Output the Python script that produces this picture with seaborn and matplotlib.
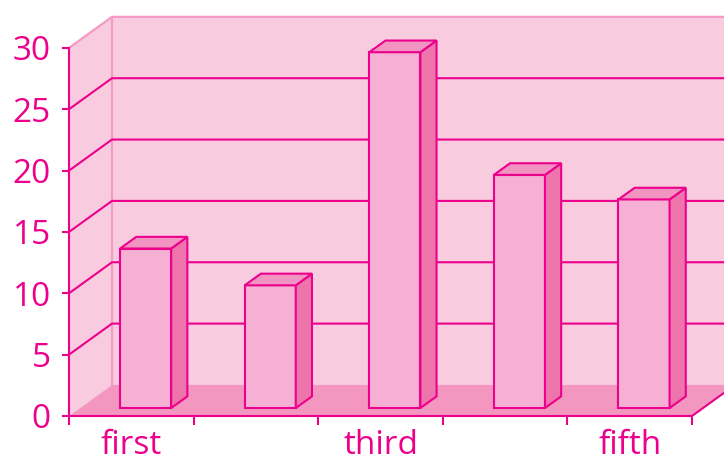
import matplotlib
matplotlib.use('Agg')
import matplotlib.pyplot as plt
import seaborn as sns
from matplotlib.patches import Polygon, Rectangle

# data
categories = ['first', 'second', 'third', 'fourth', 'fifth']
values = [13, 10, 29, 19, 17]
y_ticks = [0, 5, 10, 15, 20, 25, 30]
grid_values = [5, 10, 15, 20, 25]

# colours
PINK = '#EC008C'
WALL = '#F8CBDF'
WALL_EDGE = '#F49AC4'
FLOOR = '#F397C0'
FRONT = '#F6B0D4'
SIDE = '#EE74AC'
TOP = '#F294C1'

# pseudo-3d depth of the chart box (in data units)
DX, DY = 0.345, 2.53
BAR_OX, BAR_OY = 0.115, 0.65  # shift of the bar front face into the box
BAR_DX, BAR_DY = 0.13, 0.95   # depth of the bar itself


def main():
    sns.set_style('white')
    plt.rcParams['font.family'] = ['Open Sans', 'DejaVu Sans']

    fig = plt.figure(figsize=(7.24, 4.55), dpi=100)
    ax = fig.add_axes([69 / 724, 39 / 455, 655 / 724, 416 / 455])
    ax.set_facecolor('none')

    xl, xr = -0.5, len(categories) - 0.5
    ymax = max(y_ticks)

    # walls and floor
    ax.add_patch(Polygon([(xl, 0), (xl + DX, DY), (xl + DX, ymax + DY), (xl, ymax)],
                         closed=True, facecolor=WALL, edgecolor='none', zorder=0))
    ax.add_patch(Polygon([(xl + DX, DY), (xl + DX, ymax + DY), (xr + 1, ymax + DY), (xr + 1, DY)],
                         closed=True, facecolor=WALL, edgecolor='none', zorder=0))
    ax.add_patch(Polygon([(xl, 0), (xl + DX, DY), (xr + DX, DY), (xr, 0)],
                         closed=True, facecolor=FLOOR, edgecolor='none', zorder=1))
    ax.plot([xl, xl + DX, xr + 1], [ymax, ymax + DY, ymax + DY], color=WALL_EDGE, lw=1.6, zorder=1)
    ax.plot([xl + DX, xl + DX], [DY, ymax + DY], color=WALL_EDGE, lw=1.6, zorder=1)
    ax.plot([xr, xr + DX], [0, DY], color=PINK, lw=1.5, zorder=2)

    # grid lines on side and back wall
    for v in grid_values:
        ax.plot([xl, xl + DX, xr + 1], [v, v + DY, v + DY], color=PINK, lw=1.5, zorder=1)

    # front faces through seaborn
    sns.barplot(x=categories, y=values, width=0.41, color=FRONT, saturation=1,
                edgecolor=PINK, linewidth=1.5, ax=ax, zorder=3)

    for p in list(ax.patches):
        if not isinstance(p, Rectangle):
            continue
        h = p.get_height()
        p.set_x(p.get_x() + BAR_OX)
        p.set_y(BAR_OY)
        x0, x1 = p.get_x(), p.get_x() + p.get_width()
        y0, y1 = BAR_OY, BAR_OY + h
        ax.add_patch(Polygon([(x1, y0), (x1 + BAR_DX, y0 + BAR_DY), (x1 + BAR_DX, y1 + BAR_DY), (x1, y1)],
                             closed=True, facecolor=SIDE, edgecolor=PINK, lw=1.5, zorder=3))
        ax.add_patch(Polygon([(x0, y1), (x0 + BAR_DX, y1 + BAR_DY), (x1 + BAR_DX, y1 + BAR_DY), (x1, y1)],
                             closed=True, facecolor=TOP, edgecolor=PINK, lw=1.5, zorder=3))

    ax.set_xlim(xl, xl + 655 / 124.6)
    ax.set_ylim(0, 416 / 12.27)
    ax.set_xlabel('')
    ax.set_ylabel('')

    for s in ['top', 'right']:
        ax.spines[s].set_visible(False)
    ax.spines['left'].set_bounds(0, ymax)
    ax.spines['bottom'].set_bounds(xl, xr)
    for s in ['left', 'bottom']:
        ax.spines[s].set_color(PINK)
        ax.spines[s].set_linewidth(1.5)
        ax.spines[s].set_zorder(4)

    ax.set_yticks(y_ticks)
    ax.set_yticklabels([str(t) for t in y_ticks])
    ax.set_xticks(range(len(categories)))
    ax.set_xticklabels([c if i % 2 == 0 else '' for i, c in enumerate(categories)])
    ax.set_xticks([i - 0.5 for i in range(len(categories) + 1)], minor=True)
    ax.tick_params(axis='y', direction='out', length=5, width=1.5, color=PINK,
                   labelcolor=PINK, labelsize=24, pad=8, left=True)
    ax.tick_params(axis='x', which='major', length=0, labelcolor=PINK, labelsize=24, pad=9)
    ax.tick_params(axis='x', which='minor', direction='out', length=6.5, width=1.5,
                   color=PINK, bottom=True)

    fig.savefig('out.png', dpi=100)


if __name__ == '__main__':
    main()
